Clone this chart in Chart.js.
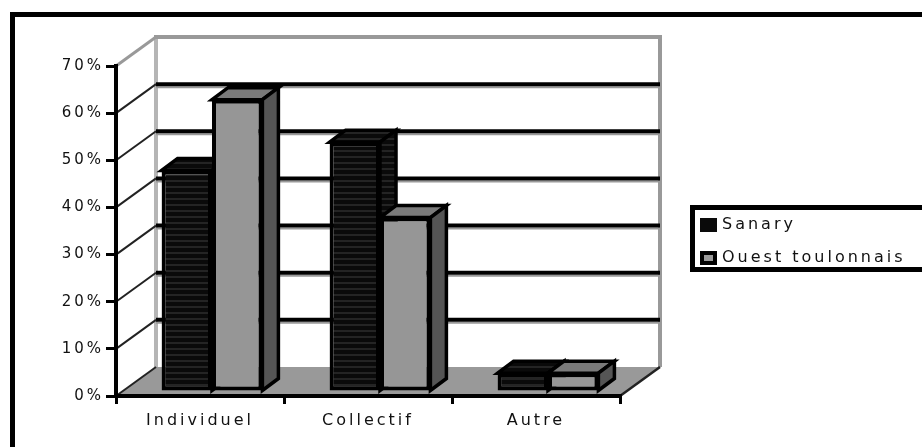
<!DOCTYPE html>
<html>
<head>
<meta charset="utf-8">
<script src="https://cdn.jsdelivr.net/npm/chart.js@4"></script>
<style>
  html, body { margin: 0; padding: 0; background: #fff; }
  canvas { display: block; }
</style>
</head>
<body>
<canvas id="chart" width="922" height="447"></canvas>
<script>
const categories = ['Individuel', 'Collectif', 'Autre'];
const seriesNames = ['Sanary', 'Ouest toulonnais'];
const sanary = [47, 53, 4];
const ouestToulonnais = [62, 37, 4];
const yMax = 70;
const yStep = 10;

// perspective offsets for the back wall and for the bar depth
const WALL = { dx: 40, dy: -29 };
const BAR_SHIFT = { dx: 12, dy: -4 };
const DEPTH = { dx: 16, dy: -12 };
const SPACING = '3px';

function stripes(ctx) {
  const c = document.createElement('canvas');
  c.width = 4; c.height = 6;
  const g = c.getContext('2d');
  g.fillStyle = '#0a0a0a';
  g.fillRect(0, 0, 4, 6);
  g.fillStyle = '#242424';
  g.fillRect(0, 4, 4, 2);
  return ctx.createPattern(c, 'repeat');
}

function line(ctx, x1, y1, x2, y2, color, width) {
  ctx.beginPath();
  ctx.moveTo(x1, y1);
  ctx.lineTo(x2, y2);
  ctx.strokeStyle = color;
  ctx.lineWidth = width;
  ctx.stroke();
}

function poly(ctx, pts, fill, stroke) {
  ctx.beginPath();
  pts.forEach(([x, y], i) => (i ? ctx.lineTo(x, y) : ctx.moveTo(x, y)));
  ctx.closePath();
  ctx.fillStyle = fill;
  ctx.fill();
  if (stroke) {
    ctx.lineWidth = 3.5;
    ctx.strokeStyle = '#000';
    ctx.lineJoin = 'miter';
    ctx.stroke();
  }
}

const canvas = document.getElementById('chart');
const stripeFill = stripes(canvas.getContext('2d'));
const faceColors = [
  { top: stripeFill, side: stripeFill },
  { top: '#7a7a7a', side: '#555555' }
];

const box3d = {
  id: 'box3d',
  beforeLayout(chart) {
    chart.ctx.letterSpacing = SPACING;
  },
  beforeDraw(chart) {
    const { ctx, chartArea: a, scales: { y } } = chart;
    ctx.letterSpacing = SPACING;
    const y0 = y.getPixelForValue(0);
    const yTop = y.getPixelForValue(yMax);
    const bl = a.left + WALL.dx;
    const br = a.right + WALL.dx;
    ctx.save();
    // floor
    poly(ctx, [[a.left, y0], [bl, y0 + WALL.dy], [br, y0 + WALL.dy], [a.right, y0]], '#999999', false);
    // wall edges
    line(ctx, bl, y0 + WALL.dy, bl, yTop + WALL.dy - 2, '#b5b5b5', 4);
    line(ctx, br, y0 + WALL.dy, br, yTop + WALL.dy - 2, '#999999', 4);
    // gridlines on back and side walls
    y.ticks.forEach(t => {
      if (t.value === 0) return;
      const yf = y.getPixelForValue(t.value);
      const yb = yf + WALL.dy;
      if (t.value === yMax) {
        line(ctx, bl - 2, yb, br + 2, yb, '#999999', 4);
        line(ctx, a.left, yf, bl, yb, '#999999', 3);
      } else {
        line(ctx, bl, yb + 3, br, yb + 3, '#999999', 2);
        line(ctx, bl, yb, br, yb, '#000000', 4);
        line(ctx, a.left, yf, bl, yb, '#222222', 2);
      }
    });
    line(ctx, a.left, y0, bl, y0 + WALL.dy, '#222222', 2);
    line(ctx, a.right, y0, br, y0 + WALL.dy, '#222222', 2.5);
    ctx.restore();
  },
  beforeDatasetsDraw(chart) {
    const ctx = chart.ctx;
    ctx.save();
    ctx.translate(BAR_SHIFT.dx, BAR_SHIFT.dy);
    chart.data.datasets.forEach((ds, i) => {
      chart.getDatasetMeta(i).data.forEach(bar => {
        const { x, y, base, width } = bar.getProps(['x', 'y', 'base', 'width'], true);
        const l = x - width / 2;
        const r = x + width / 2;
        poly(ctx, [[l, y], [l + DEPTH.dx, y + DEPTH.dy], [r + DEPTH.dx, y + DEPTH.dy], [r, y]], faceColors[i].top, true);
        poly(ctx, [[r, y], [r + DEPTH.dx, y + DEPTH.dy], [r + DEPTH.dx, base + DEPTH.dy], [r, base]], faceColors[i].side, true);
      });
    });
  },
  afterDatasetsDraw(chart) {
    chart.ctx.restore();
  },
  afterDraw(chart) {
    const ctx = chart.ctx;
    ctx.save();
    // legend
    ctx.lineWidth = 5;
    ctx.strokeStyle = '#000';
    ctx.strokeRect(692.5, 207.5, 240, 62);
    const rows = [229, 262];
    chart.data.datasets.forEach((ds, i) => {
      const top = rows[i] - 11;
      if (i === 0) {
        ctx.fillStyle = '#0a0a0a';
        ctx.fillRect(700, top, 17, 14);
      } else {
        ctx.fillStyle = '#999999';
        ctx.fillRect(701, top + 1, 16, 12);
        ctx.lineWidth = 4;
        ctx.strokeRect(702, top + 2, 13, 10);
      }
      ctx.fillStyle = '#111';
      ctx.font = '16px "DejaVu Sans"';
      ctx.letterSpacing = SPACING;
      ctx.textBaseline = 'alphabetic';
      ctx.textAlign = 'left';
      ctx.fillText(ds.label, 722, rows[i]);
    });
    // outer frame
    ctx.lineWidth = 5;
    ctx.strokeRect(12.5, 14.5, 1000, 1000);
    ctx.restore();
  }
};

Chart.defaults.font.family = '"DejaVu Sans"';
Chart.defaults.color = '#111';

new Chart(canvas, {
  type: 'bar',
  data: {
    labels: categories,
    datasets: [
      {
        label: seriesNames[0],
        data: sanary,
        backgroundColor: stripeFill,
        borderColor: '#000',
        borderWidth: 4,
        borderSkipped: false
      },
      {
        label: seriesNames[1],
        data: ouestToulonnais,
        backgroundColor: '#969696',
        borderColor: '#000',
        borderWidth: 4,
        borderSkipped: false
      }
    ]
  },
  options: {
    responsive: false,
    animation: false,
    devicePixelRatio: 1,
    layout: { padding: { top: 66, right: 302, left: 0, bottom: 0 } },
    plugins: { legend: { display: false }, tooltip: { enabled: false } },
    datasets: { bar: { categoryPercentage: 0.6, barPercentage: 1 } },
    scales: {
      x: {
        afterFit: s => { s.height = 51; },
        grid: { drawOnChartArea: false, drawTicks: true, tickLength: 8, tickWidth: 3, tickColor: '#000', lineWidth: 3, color: '#000' },
        border: { display: true, color: '#000', width: 4 },
        ticks: { font: { size: 16 }, padding: 7, color: '#111' }
      },
      y: {
        min: 0,
        max: yMax,
        afterFit: s => { s.width = 116; },
        grid: { drawOnChartArea: false, drawTicks: true, tickLength: 10, tickWidth: 3, tickColor: '#000', lineWidth: 3, color: '#000' },
        border: { display: true, color: '#000', width: 4 },
        ticks: { stepSize: yStep, font: { size: 15 }, padding: 2, color: '#111', callback: v => v + '%' }
      }
    }
  },
  plugins: [box3d]
});
</script>
</body>
</html>
